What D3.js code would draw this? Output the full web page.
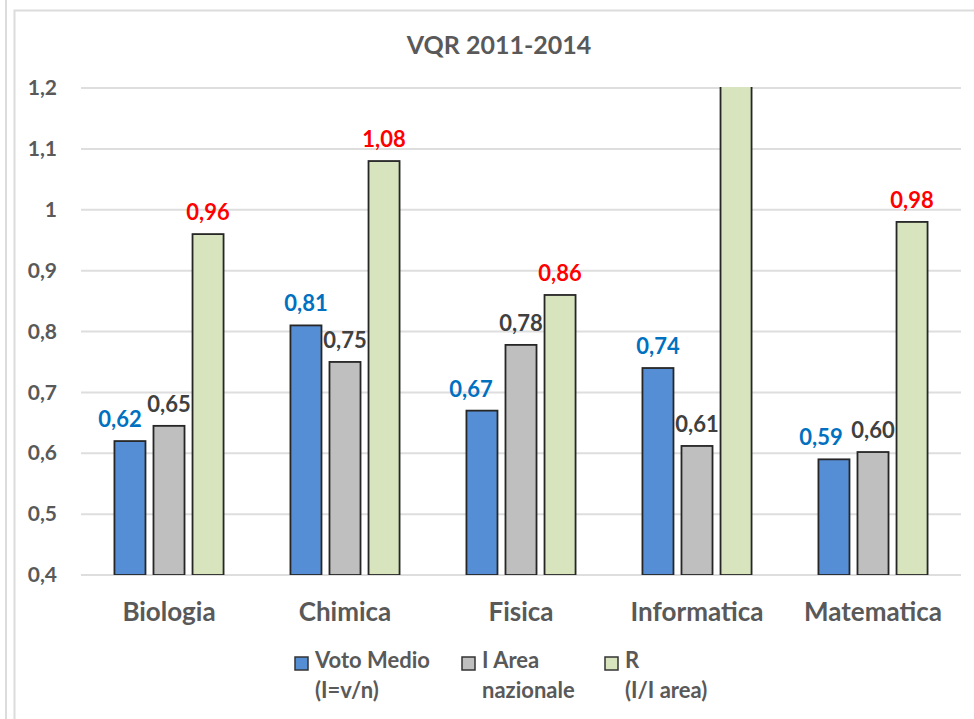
<!DOCTYPE html>
<html>
<head>
<meta charset="utf-8">
<script src="https://cdn.jsdelivr.net/npm/d3@7"></script>
<style>
  html, body { margin: 0; padding: 0; background: #fff; }
  svg { display: block; font-family: Lato, "Open Sans", sans-serif; font-weight: 700; }
</style>
</head>
<body>
<div id="chart"></div>
<script>
const chartWidth = 974;
const chartHeight = 719;
const plot = { left: 81, right: 961, top: 88, bottom: 575 };

const categories = ["Biologia", "Chimica", "Fisica", "Informatica", "Matematica"];
const seriesKeys = ["voto", "area", "r"];
const seriesLabels = [
  ["Voto Medio", "(I=v/n)"],
  ["I Area", "nazionale"],
  ["R", "(I/I area)"],
];
const votoMedio = [0.62, 0.81, 0.67, 0.74, 0.59];
const iArea = [0.645, 0.75, 0.778, 0.612, 0.602];
const rValues = [0.96, 1.08, 0.86, 1.21, 0.98];
const yTicks = [0.4, 0.5, 0.6, 0.7, 0.8, 0.9, 1.0, 1.1, 1.2];

const fillColor = { voto: "#558ed5", area: "#bfbfbf", r: "#d7e4bd" };
const labelColor = { voto: "#0070c0", area: "#404040", r: "#ff0000" };
// manual nudges of the blue labels (dragged in the original)
const labelNudge = { Biologia: -10, Fisica: -11, Matematica: -13 };

const rows = categories.map((c, i) => ({
  category: c,
  voto: votoMedio[i],
  area: iArea[i],
  r: rValues[i],
}));

const fmt = (v) => d3.format(".2f")(v).replace(".", ",");
const tickFmt = (v) => (v === 1 ? "1" : d3.format(".1f")(v).replace(".", ","));

const svg = d3
  .select("#chart")
  .append("svg")
  .attr("width", chartWidth)
  .attr("height", chartHeight);

// outer frame lines
svg.append("line")
  .attr("x1", 6).attr("x2", 6).attr("y1", 0).attr("y2", chartHeight)
  .attr("stroke", "#dcdcdc").attr("stroke-width", 2);
svg.append("path")
  .attr("d", `M14.5,${chartHeight} V10.5 H${chartWidth}`)
  .attr("fill", "none").attr("stroke", "#dcdcdc").attr("stroke-width", 2);

const x0 = d3.scaleBand()
  .domain(categories)
  .range([plot.left, plot.right])
  .paddingInner(0.38)
  .paddingOuter(0.19);

const x1 = d3.scaleBand()
  .domain(seriesKeys)
  .range([0, x0.bandwidth()])
  .paddingInner(0.205);

const y = d3.scaleLinear().domain([0.4, 1.2]).range([plot.bottom, plot.top]);

svg.append("text")
  .attr("x", 499).attr("y", 54)
  .attr("text-anchor", "middle")
  .attr("font-size", 25)
  .attr("fill", "#595959")
  .text("VQR 2011-2014");

// gridlines
svg.append("g")
  .selectAll("line")
  .data(yTicks)
  .join("line")
  .attr("x1", plot.left).attr("x2", plot.right)
  .attr("y1", (d) => y(d)).attr("y2", (d) => y(d))
  .attr("stroke", "#dedede").attr("stroke-width", 2);

// y axis labels
const yAxis = svg.append("g")
  .attr("transform", `translate(${plot.left},0)`)
  .call(d3.axisLeft(y).tickValues(yTicks).tickFormat(tickFmt).tickSize(0).tickPadding(24));
yAxis.select(".domain").remove();
yAxis.selectAll("text")
  .attr("font-size", 21)
  .attr("font-family", "Lato, sans-serif")
  .attr("font-weight", 700)
  .attr("fill", "#595959");

svg.append("defs").append("clipPath").attr("id", "plot-clip")
  .append("rect")
  .attr("x", plot.left).attr("y", plot.top - 1)
  .attr("width", plot.right - plot.left).attr("height", plot.bottom - plot.top + 1);

const groups = svg.append("g")
  .attr("clip-path", "url(#plot-clip)")
  .selectAll("g")
  .data(rows)
  .join("g")
  .attr("transform", (d) => `translate(${x0(d.category)},0)`);

groups.selectAll("rect")
  .data((d) => seriesKeys.map((k) => ({ key: k, value: d[k] })))
  .join("rect")
  .attr("x", (d) => x1(d.key))
  .attr("y", (d) => y(d.value))
  .attr("width", x1.bandwidth())
  .attr("height", (d) => plot.bottom - y(d.value))
  .attr("fill", (d) => fillColor[d.key])
  .attr("stroke", "#262626")
  .attr("stroke-width", 1.8);

// value labels (values above the axis max get none)
const labelData = [];
rows.forEach((row) => {
  seriesKeys.forEach((k) => {
    if (row[k] <= 1.2) {
      labelData.push({ category: row.category, key: k, value: row[k] });
    }
  });
});

svg.append("g")
  .selectAll("text")
  .data(labelData)
  .join("text")
  .attr("x", (d) =>
    x0(d.category) + x1(d.key) + x1.bandwidth() / 2 +
    (d.key === "voto" ? labelNudge[d.category] || 0 : 0))
  .attr("y", (d) => y(d.value) - 14)
  .attr("text-anchor", "middle")
  .attr("font-size", 22)
  .attr("fill", (d) => labelColor[d.key])
  .text((d) => fmt(d.value));

// category labels
svg.append("g")
  .selectAll("text")
  .data(categories)
  .join("text")
  .attr("x", (d) => x0(d) + x0.bandwidth() / 2)
  .attr("y", 621)
  .attr("text-anchor", "middle")
  .attr("font-size", 26)
  .attr("fill", "#595959")
  .text((d) => d);

// legend
const legendX = [295, 462, 605];
const legend = svg.append("g")
  .selectAll("g")
  .data(seriesKeys)
  .join("g")
  .attr("transform", (d, i) => `translate(${legendX[i]},657)`);

legend.append("rect")
  .attr("width", 13).attr("height", 13)
  .attr("fill", (d) => fillColor[d])
  .attr("stroke", "#333").attr("stroke-width", 1.5);

legend.each(function (d, i) {
  const t = d3.select(this).append("text")
    .attr("x", 20)
    .attr("font-size", 22)
    .attr("fill", "#595959");
  seriesLabels[i].forEach((line, j) => {
    t.append("tspan").attr("x", 20).attr("y", 11 + j * 30).text(line);
  });
});
</script>
</body>
</html>
